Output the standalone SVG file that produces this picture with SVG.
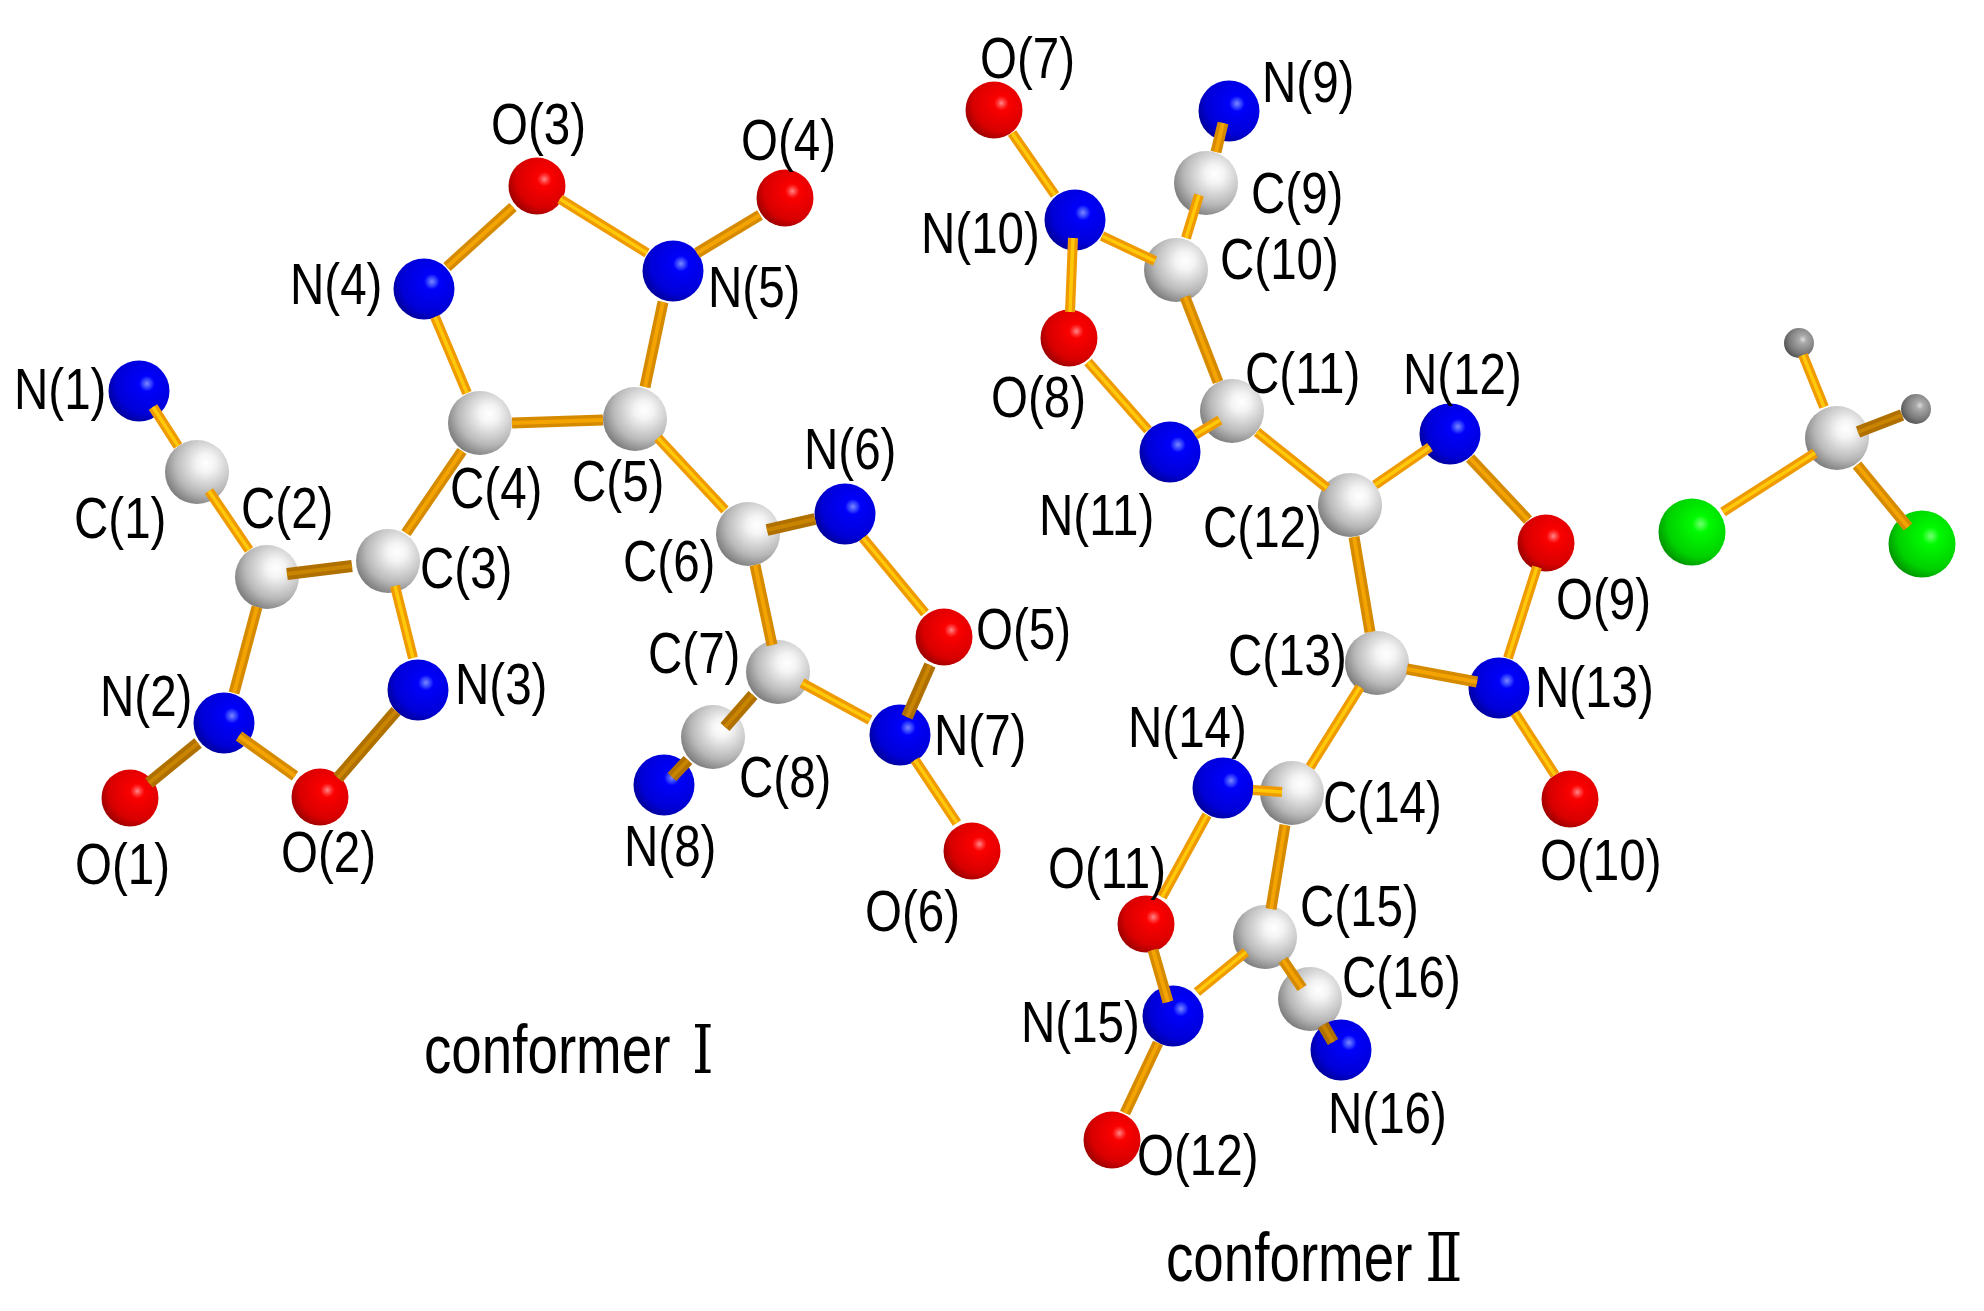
<svg xmlns="http://www.w3.org/2000/svg" width="1984" height="1311" viewBox="0 0 1984 1311">
<style>
text{font-family:"Liberation Sans",Arial,sans-serif;fill:#000}
.l{font-size:58px}
.t{font-size:68px}
.r{font-family:"DejaVu Serif","Liberation Serif",serif}
.C{fill:url(#gC)}.N{fill:url(#gN)}.O{fill:url(#gO)}.H{fill:url(#gH)}.Cl{fill:url(#gCl)}
.bright{stroke:#ee9a00;stroke-width:10}.bright-hi{stroke:#ffc808;stroke-width:3.5}
.mid{stroke:#d68a00;stroke-width:11}.mid-hi{stroke:#f4a400;stroke-width:4}
.dark{stroke:#b07000;stroke-width:12}.dark-hi{stroke:#c98400;stroke-width:4}
</style>
<defs>
<radialGradient id="gC" cx=".64" cy=".36" r=".8"><stop offset="0" stop-color="#fff"/><stop offset=".18" stop-color="#f4f4f4"/><stop offset=".6" stop-color="#b8b8b8"/><stop offset="1" stop-color="#5e5e5e"/></radialGradient>
<radialGradient id="gN" cx=".63" cy=".38" r=".8"><stop offset="0" stop-color="#7c88ff"/><stop offset=".09" stop-color="#3040ff"/><stop offset=".16" stop-color="#0000fa"/><stop offset=".62" stop-color="#0000d8"/><stop offset="1" stop-color="#000070"/></radialGradient>
<radialGradient id="gO" cx=".63" cy=".38" r=".8"><stop offset="0" stop-color="#ff8888"/><stop offset=".09" stop-color="#ff3030"/><stop offset=".16" stop-color="#fa0000"/><stop offset=".62" stop-color="#d80000"/><stop offset="1" stop-color="#700000"/></radialGradient>
<radialGradient id="gCl" cx=".63" cy=".38" r=".8"><stop offset="0" stop-color="#70ff70"/><stop offset=".09" stop-color="#30ff30"/><stop offset=".16" stop-color="#00fa00"/><stop offset=".62" stop-color="#00d000"/><stop offset="1" stop-color="#006800"/></radialGradient>
<radialGradient id="gH" cx=".63" cy=".38" r=".8"><stop offset="0" stop-color="#ddd"/><stop offset=".16" stop-color="#aaa"/><stop offset=".6" stop-color="#777"/><stop offset="1" stop-color="#383838"/></radialGradient>
</defs>
<rect width="1984" height="1311" fill="#fff"/>
<g id="N_1"><circle class="N" cx="139" cy="391" r="30.5"/><text class="l" transform="matrix(.82 0 0 1 14 409)">N(1)</text></g>
<g id="C_1"><circle class="C" cx="197" cy="472" r="32"/><text class="l" transform="matrix(.82 0 0 1 74 538)">C(1)</text></g>
<g id="C_2"><circle class="C" cx="267" cy="577" r="32"/><text class="l" transform="matrix(.82 0 0 1 241 528)">C(2)</text></g>
<g id="C_3"><circle class="C" cx="388" cy="561" r="32"/><text class="l" transform="matrix(.82 0 0 1 420 588)">C(3)</text></g>
<g id="C_4"><circle class="C" cx="480" cy="423" r="32"/><text class="l" transform="matrix(.82 0 0 1 450 508)">C(4)</text></g>
<g id="N_2"><circle class="N" cx="224" cy="723" r="30.5"/><text class="l" transform="matrix(.82 0 0 1 100 716)">N(2)</text></g>
<g id="N_3"><circle class="N" cx="418" cy="690" r="30.5"/><text class="l" transform="matrix(.82 0 0 1 455 704)">N(3)</text></g>
<g id="O_1"><circle class="O" cx="130" cy="798" r="28.5"/><text class="l" transform="matrix(.82 0 0 1 75 884)">O(1)</text></g>
<g id="O_2"><circle class="O" cx="320" cy="797" r="28.5"/><text class="l" transform="matrix(.82 0 0 1 281 872)">O(2)</text></g>
<g id="O_3"><circle class="O" cx="537" cy="186" r="28.5"/><text class="l" transform="matrix(.82 0 0 1 491 144)">O(3)</text></g>
<g id="O_4"><circle class="O" cx="785" cy="198" r="28.5"/><text class="l" transform="matrix(.82 0 0 1 741 160)">O(4)</text></g>
<g id="N_4"><circle class="N" cx="424" cy="289" r="30.5"/><text class="l" transform="matrix(.82 0 0 1 290 304)">N(4)</text></g>
<g id="N_5"><circle class="N" cx="673" cy="271" r="30.5"/><text class="l" transform="matrix(.82 0 0 1 708 307)">N(5)</text></g>
<g id="C_5"><circle class="C" cx="635" cy="419" r="32"/><text class="l" transform="matrix(.82 0 0 1 572 501)">C(5)</text></g>
<g id="C_6"><circle class="C" cx="748" cy="534" r="32"/><text class="l" transform="matrix(.82 0 0 1 623 581)">C(6)</text></g>
<g id="N_6"><circle class="N" cx="845" cy="514" r="30.5"/><text class="l" transform="matrix(.82 0 0 1 804 469)">N(6)</text></g>
<g id="C_7"><circle class="C" cx="778" cy="672" r="32"/><text class="l" transform="matrix(.82 0 0 1 648 673)">C(7)</text></g>
<g id="C_8"><circle class="C" cx="713" cy="737" r="32"/><text class="l" transform="matrix(.82 0 0 1 739 797)">C(8)</text></g>
<g id="N_8"><circle class="N" cx="664" cy="785" r="30.5"/><text class="l" transform="matrix(.82 0 0 1 624 866)">N(8)</text></g>
<g id="N_7"><circle class="N" cx="900" cy="735" r="30.5"/><text class="l" transform="matrix(.82 0 0 1 934 755)">N(7)</text></g>
<g id="O_5"><circle class="O" cx="944" cy="637" r="28.5"/><text class="l" transform="matrix(.82 0 0 1 976 649)">O(5)</text></g>
<g id="O_6"><circle class="O" cx="972" cy="851" r="28.5"/><text class="l" transform="matrix(.82 0 0 1 865 931)">O(6)</text></g>
<g id="O_7"><circle class="O" cx="994" cy="110" r="28.5"/><text class="l" transform="matrix(.82 0 0 1 980 78)">O(7)</text></g>
<g id="N_9"><circle class="N" cx="1229" cy="111" r="30.5"/><text class="l" transform="matrix(.82 0 0 1 1262 102)">N(9)</text></g>
<g id="C_9"><circle class="C" cx="1206" cy="183" r="32"/><text class="l" transform="matrix(.82 0 0 1 1251 213)">C(9)</text></g>
<g id="C_10"><circle class="C" cx="1176" cy="270" r="32"/><text class="l" transform="matrix(.82 0 0 1 1220 279)">C(10)</text></g>
<g id="N_10"><circle class="N" cx="1075" cy="220" r="30.5"/><text class="l" transform="matrix(.82 0 0 1 921 253)">N(10)</text></g>
<g id="O_8"><circle class="O" cx="1069" cy="338" r="28.5"/><text class="l" transform="matrix(.82 0 0 1 991 417)">O(8)</text></g>
<g id="N_11"><circle class="N" cx="1170" cy="452" r="30.5"/><text class="l" transform="matrix(.82 0 0 1 1039 535)">N(11)</text></g>
<g id="C_11"><circle class="C" cx="1232" cy="411" r="32"/><text class="l" transform="matrix(.82 0 0 1 1245 393)">C(11)</text></g>
<g id="C_12"><circle class="C" cx="1350" cy="505" r="32"/><text class="l" transform="matrix(.82 0 0 1 1203 547)">C(12)</text></g>
<g id="N_12"><circle class="N" cx="1450" cy="434" r="30.5"/><text class="l" transform="matrix(.82 0 0 1 1403 394)">N(12)</text></g>
<g id="O_9"><circle class="O" cx="1546" cy="543" r="28.5"/><text class="l" transform="matrix(.82 0 0 1 1556 619)">O(9)</text></g>
<g id="C_13"><circle class="C" cx="1377" cy="663" r="32"/><text class="l" transform="matrix(.82 0 0 1 1228 675)">C(13)</text></g>
<g id="N_13"><circle class="N" cx="1499" cy="688" r="30.5"/><text class="l" transform="matrix(.82 0 0 1 1535 707)">N(13)</text></g>
<g id="O_10"><circle class="O" cx="1570" cy="799" r="28.5"/><text class="l" transform="matrix(.82 0 0 1 1540 880)">O(10)</text></g>
<g id="N_14"><circle class="N" cx="1223" cy="788" r="30.5"/><text class="l" transform="matrix(.82 0 0 1 1128 747)">N(14)</text></g>
<g id="C_14"><circle class="C" cx="1292" cy="793" r="32"/><text class="l" transform="matrix(.82 0 0 1 1323 822)">C(14)</text></g>
<g id="O_11"><circle class="O" cx="1146" cy="924" r="28.5"/><text class="l" transform="matrix(.82 0 0 1 1048 888)">O(11)</text></g>
<g id="C_15"><circle class="C" cx="1265" cy="937" r="32"/><text class="l" transform="matrix(.82 0 0 1 1300 926)">C(15)</text></g>
<g id="C_16"><circle class="C" cx="1310" cy="999" r="32"/><text class="l" transform="matrix(.82 0 0 1 1342 997)">C(16)</text></g>
<g id="N_15"><circle class="N" cx="1173" cy="1016" r="30.5"/><text class="l" transform="matrix(.82 0 0 1 1021 1042)">N(15)</text></g>
<g id="N_16"><circle class="N" cx="1341" cy="1050" r="30.5"/><text class="l" transform="matrix(.82 0 0 1 1328 1133)">N(16)</text></g>
<g id="O_12"><circle class="O" cx="1112" cy="1140" r="28.5"/><text class="l" transform="matrix(.82 0 0 1 1137 1175)">O(12)</text></g>
<g id="solvent-C"><circle class="C" cx="1837" cy="438" r="32"/></g>
<g id="solvent-H1"><circle class="H" cx="1799" cy="343" r="15"/></g>
<g id="solvent-H2"><circle class="H" cx="1916" cy="409" r="15"/></g>
<g id="solvent-Cl1"><circle class="Cl" cx="1692" cy="532" r="33.5"/></g>
<g id="solvent-Cl2"><circle class="Cl" cx="1922" cy="544" r="33.5"/></g>
<g id="connectors">
<g class="bright"><g id="bb">
<line x1="153" y1="407" x2="178" y2="446"/>
<line x1="209" y1="491" x2="249" y2="550"/>
<line x1="395" y1="586" x2="413" y2="658"/>
<line x1="435" y1="317" x2="467" y2="393"/>
<line x1="560" y1="199" x2="647" y2="253"/>
<line x1="658" y1="438" x2="725" y2="510"/>
<line x1="863" y1="538" x2="925" y2="613"/>
<line x1="802" y1="683" x2="870" y2="720"/>
<line x1="915" y1="760" x2="957" y2="823"/>
<line x1="1199" y1="195" x2="1186" y2="238"/>
<line x1="1012" y1="133" x2="1055" y2="195"/>
<line x1="1102" y1="236" x2="1155" y2="261"/>
<line x1="1073" y1="238" x2="1070" y2="312"/>
<line x1="1088" y1="362" x2="1148" y2="430"/>
<line x1="1195" y1="435" x2="1220" y2="420"/>
<line x1="1257" y1="432" x2="1327" y2="488"/>
<line x1="1375" y1="485" x2="1430" y2="447"/>
<line x1="1537" y1="567" x2="1508" y2="658"/>
<line x1="1515" y1="713" x2="1555" y2="775"/>
<line x1="1360" y1="687" x2="1310" y2="767"/>
<line x1="1253" y1="790" x2="1282" y2="792"/>
<line x1="1207" y1="815" x2="1162" y2="897"/>
<line x1="1246" y1="952" x2="1197" y2="992"/>
<line x1="1824" y1="407" x2="1803" y2="355"/>
<line x1="1815" y1="453" x2="1723" y2="512"/>
</g></g><use href="#bb" class="bright-hi"/>
<g class="mid"><g id="bm">
<line x1="462" y1="451" x2="406" y2="533"/>
<line x1="257" y1="607" x2="234" y2="693"/>
<line x1="239" y1="736" x2="295" y2="776"/>
<line x1="447" y1="267" x2="513" y2="207"/>
<line x1="697" y1="253" x2="760" y2="215"/>
<line x1="663" y1="302" x2="645" y2="387"/>
<line x1="512" y1="423" x2="603" y2="420"/>
<line x1="755" y1="565" x2="772" y2="645"/>
<line x1="1223" y1="123" x2="1216" y2="152"/>
<line x1="1185" y1="297" x2="1218" y2="382"/>
<line x1="1470" y1="458" x2="1528" y2="520"/>
<line x1="1354" y1="537" x2="1370" y2="632"/>
<line x1="1407" y1="669" x2="1477" y2="682"/>
<line x1="1285" y1="825" x2="1271" y2="909"/>
<line x1="1153" y1="950" x2="1168" y2="1002"/>
<line x1="1283" y1="960" x2="1302" y2="988"/>
<line x1="1158" y1="1043" x2="1125" y2="1113"/>
<line x1="1857" y1="465" x2="1908" y2="527"/>
</g></g><use href="#bm" class="mid-hi"/>
<g class="dark"><g id="bd">
<line x1="352" y1="566" x2="287" y2="574"/>
<line x1="198" y1="743" x2="149" y2="783"/>
<line x1="338" y1="778" x2="396" y2="711"/>
<line x1="767" y1="530" x2="815" y2="519"/>
<line x1="930" y1="665" x2="907" y2="717"/>
<line x1="753" y1="695" x2="725" y2="727"/>
<line x1="688" y1="760" x2="672" y2="777"/>
<line x1="1323" y1="1025" x2="1333" y2="1042"/>
<line x1="1858" y1="432" x2="1902" y2="415"/>
</g></g><use href="#bd" class="dark-hi"/>
</g>
<g id="captions">
<text class="t" transform="matrix(.805 0 0 1 424 1073)">conformer <tspan class="r" x="333">Ⅰ</tspan></text>
<text class="t" transform="matrix(.805 0 0 1 1166 1281)">conformer <tspan class="r" x="322">Ⅱ</tspan></text>
</g>
</svg>
